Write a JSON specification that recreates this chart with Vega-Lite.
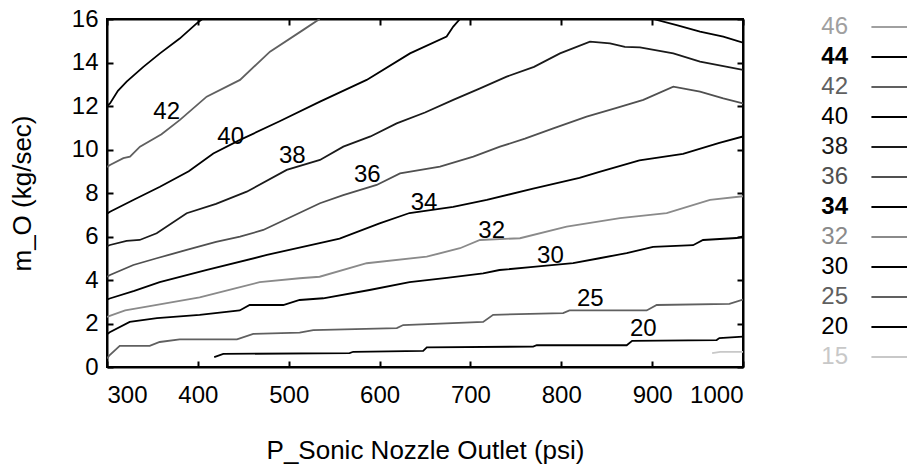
{
  "$schema": "https://vega.github.io/schema/vega-lite/v6.json",
  "width": 636,
  "height": 348,
  "autosize": {"type": "none"},
  "padding": {"left": 107, "top": 19, "right": 164, "bottom": 102},
  "background": "white",
  "config": {
    "font": "Liberation Sans",
    "view": {"stroke": "black", "strokeWidth": 2},
    "axis": {
      "grid": false,
      "domainColor": "black",
      "domainWidth": 2,
      "tickColor": "black",
      "tickSize": -6,
      "tickWidth": 2,
      "labelFont": "Liberation Sans",
      "labelFontSize": 24,
      "labelColor": "black",
      "titleFont": "Liberation Sans",
      "titleFontSize": 26,
      "titleFontWeight": "normal",
      "titleColor": "black"
    },
    "legend": {
      "orient": "none",
      "legendX": 763,
      "legendY": -10,
      "padding": 0,
      "symbolType": "M-1,0H5.5",
      "symbolSize": 1100,
      "symbolStrokeWidth": 2,
      "symbolOpacity": 1,
      "labelFont": "Liberation Sans",
      "labelFontSize": 24,
      "labelOffset": -58,
      "labelAlign": "right",
      "rowPadding": 0
    }
  },
  "datasets": {
    "lines": [
      {"level": 44, "seg": "44a", "x": 300, "y": 12.0},
      {"level": 44, "seg": "44a", "x": 303.3, "y": 12.12},
      {"level": 44, "seg": "44a", "x": 312, "y": 12.7},
      {"level": 44, "seg": "44a", "x": 321.6, "y": 13.12},
      {"level": 44, "seg": "44a", "x": 340, "y": 13.8},
      {"level": 44, "seg": "44a", "x": 358.3, "y": 14.42},
      {"level": 44, "seg": "44a", "x": 380, "y": 15.1},
      {"level": 44, "seg": "44a", "x": 398.7, "y": 15.8},
      {"level": 44, "seg": "44a", "x": 405, "y": 16.0},

      {"level": 42, "seg": "42a", "x": 300, "y": 9.2},
      {"level": 42, "seg": "42a", "x": 303.3, "y": 9.29},
      {"level": 42, "seg": "42a", "x": 318, "y": 9.6},
      {"level": 42, "seg": "42a", "x": 325.3, "y": 9.67},
      {"level": 42, "seg": "42a", "x": 336.3, "y": 10.13},
      {"level": 42, "seg": "42a", "x": 360, "y": 10.7},
      {"level": 42, "seg": "42a", "x": 380.3, "y": 11.36},
      {"level": 42, "seg": "42a", "x": 409.7, "y": 12.43},
      {"level": 42, "seg": "42a", "x": 446.4, "y": 13.2},
      {"level": 42, "seg": "42a", "x": 479.4, "y": 14.5},
      {"level": 42, "seg": "42a", "x": 516, "y": 15.5},
      {"level": 42, "seg": "42a", "x": 534, "y": 16.0},

      {"level": 40, "seg": "40a", "x": 300, "y": 7.05},
      {"level": 40, "seg": "40a", "x": 303.3, "y": 7.14},
      {"level": 40, "seg": "40a", "x": 330, "y": 7.7},
      {"level": 40, "seg": "40a", "x": 358.3, "y": 8.29},
      {"level": 40, "seg": "40a", "x": 390, "y": 9.0},
      {"level": 40, "seg": "40a", "x": 417, "y": 9.82},
      {"level": 40, "seg": "40a", "x": 446.4, "y": 10.44},
      {"level": 40, "seg": "40a", "x": 490, "y": 11.3},
      {"level": 40, "seg": "40a", "x": 534.4, "y": 12.2},
      {"level": 40, "seg": "40a", "x": 585.8, "y": 13.2},
      {"level": 40, "seg": "40a", "x": 633.5, "y": 14.42},
      {"level": 40, "seg": "40a", "x": 673.8, "y": 15.19},
      {"level": 40, "seg": "40a", "x": 681.1, "y": 15.65},
      {"level": 40, "seg": "40a", "x": 688.5, "y": 16.0},

      {"level": 40, "seg": "40b", "x": 901, "y": 16.0},
      {"level": 40, "seg": "40b", "x": 927, "y": 15.72},
      {"level": 40, "seg": "40b", "x": 952.7, "y": 15.42},
      {"level": 40, "seg": "40b", "x": 978.3, "y": 15.19},
      {"level": 40, "seg": "40b", "x": 1000, "y": 14.91},

      {"level": 38, "seg": "38a", "x": 300, "y": 5.55},
      {"level": 38, "seg": "38a", "x": 303.3, "y": 5.61},
      {"level": 38, "seg": "38a", "x": 321.6, "y": 5.8},
      {"level": 38, "seg": "38a", "x": 336, "y": 5.84},
      {"level": 38, "seg": "38a", "x": 354.7, "y": 6.15},
      {"level": 38, "seg": "38a", "x": 387.7, "y": 7.07},
      {"level": 38, "seg": "38a", "x": 420, "y": 7.5},
      {"level": 38, "seg": "38a", "x": 453.8, "y": 8.06},
      {"level": 38, "seg": "38a", "x": 497.8, "y": 9.06},
      {"level": 38, "seg": "38a", "x": 534.4, "y": 9.52},
      {"level": 38, "seg": "38a", "x": 560.1, "y": 10.13},
      {"level": 38, "seg": "38a", "x": 590, "y": 10.6},
      {"level": 38, "seg": "38a", "x": 618.8, "y": 11.2},
      {"level": 38, "seg": "38a", "x": 650, "y": 11.7},
      {"level": 38, "seg": "38a", "x": 681.1, "y": 12.28},
      {"level": 38, "seg": "38a", "x": 710, "y": 12.8},
      {"level": 38, "seg": "38a", "x": 739.9, "y": 13.35},
      {"level": 38, "seg": "38a", "x": 770, "y": 13.8},
      {"level": 38, "seg": "38a", "x": 798.6, "y": 14.42},
      {"level": 38, "seg": "38a", "x": 831.6, "y": 14.96},
      {"level": 38, "seg": "38a", "x": 853.6, "y": 14.88},
      {"level": 38, "seg": "38a", "x": 870, "y": 14.72},
      {"level": 38, "seg": "38a", "x": 886.6, "y": 14.7},
      {"level": 38, "seg": "38a", "x": 923.3, "y": 14.42},
      {"level": 38, "seg": "38a", "x": 952.7, "y": 14.04},
      {"level": 38, "seg": "38a", "x": 1000, "y": 13.66},

      {"level": 36, "seg": "36a", "x": 300, "y": 4.15},
      {"level": 36, "seg": "36a", "x": 303.3, "y": 4.23},
      {"level": 36, "seg": "36a", "x": 329, "y": 4.69},
      {"level": 36, "seg": "36a", "x": 354.7, "y": 5.0},
      {"level": 36, "seg": "36a", "x": 387.7, "y": 5.38},
      {"level": 36, "seg": "36a", "x": 420, "y": 5.75},
      {"level": 36, "seg": "36a", "x": 446.4, "y": 5.99},
      {"level": 36, "seg": "36a", "x": 472, "y": 6.3},
      {"level": 36, "seg": "36a", "x": 534.4, "y": 7.53},
      {"level": 36, "seg": "36a", "x": 560, "y": 7.9},
      {"level": 36, "seg": "36a", "x": 596.8, "y": 8.37},
      {"level": 36, "seg": "36a", "x": 622.5, "y": 8.9},
      {"level": 36, "seg": "36a", "x": 666.5, "y": 9.21},
      {"level": 36, "seg": "36a", "x": 703.2, "y": 9.67},
      {"level": 36, "seg": "36a", "x": 732.5, "y": 10.13},
      {"level": 36, "seg": "36a", "x": 760, "y": 10.5},
      {"level": 36, "seg": "36a", "x": 791.2, "y": 10.97},
      {"level": 36, "seg": "36a", "x": 827.9, "y": 11.51},
      {"level": 36, "seg": "36a", "x": 860, "y": 11.9},
      {"level": 36, "seg": "36a", "x": 890.3, "y": 12.28},
      {"level": 36, "seg": "36a", "x": 923.3, "y": 12.89},
      {"level": 36, "seg": "36a", "x": 952.7, "y": 12.66},
      {"level": 36, "seg": "36a", "x": 978.3, "y": 12.35},
      {"level": 36, "seg": "36a", "x": 1000, "y": 12.12},

      {"level": 34, "seg": "34a", "x": 300, "y": 3.1},
      {"level": 34, "seg": "34a", "x": 303, "y": 3.15},
      {"level": 34, "seg": "34a", "x": 330, "y": 3.5},
      {"level": 34, "seg": "34a", "x": 358, "y": 3.9},
      {"level": 34, "seg": "34a", "x": 410, "y": 4.46},
      {"level": 34, "seg": "34a", "x": 476, "y": 5.15},
      {"level": 34, "seg": "34a", "x": 534, "y": 5.7},
      {"level": 34, "seg": "34a", "x": 556, "y": 5.9},
      {"level": 34, "seg": "34a", "x": 600, "y": 6.6},
      {"level": 34, "seg": "34a", "x": 633, "y": 7.08},
      {"level": 34, "seg": "34a", "x": 681, "y": 7.36},
      {"level": 34, "seg": "34a", "x": 718, "y": 7.68},
      {"level": 34, "seg": "34a", "x": 769, "y": 8.2},
      {"level": 34, "seg": "34a", "x": 820, "y": 8.7},
      {"level": 34, "seg": "34a", "x": 842, "y": 8.97},
      {"level": 34, "seg": "34a", "x": 886, "y": 9.5},
      {"level": 34, "seg": "34a", "x": 934, "y": 9.8},
      {"level": 34, "seg": "34a", "x": 974, "y": 10.3},
      {"level": 34, "seg": "34a", "x": 1000, "y": 10.6},

      {"level": 32, "seg": "32a", "x": 300, "y": 2.3},
      {"level": 32, "seg": "32a", "x": 303, "y": 2.35},
      {"level": 32, "seg": "32a", "x": 320, "y": 2.6},
      {"level": 32, "seg": "32a", "x": 347, "y": 2.8},
      {"level": 32, "seg": "32a", "x": 402, "y": 3.2},
      {"level": 32, "seg": "32a", "x": 440, "y": 3.6},
      {"level": 32, "seg": "32a", "x": 468, "y": 3.9},
      {"level": 32, "seg": "32a", "x": 512, "y": 4.08},
      {"level": 32, "seg": "32a", "x": 534, "y": 4.15},
      {"level": 32, "seg": "32a", "x": 585.8, "y": 4.77},
      {"level": 32, "seg": "32a", "x": 651.9, "y": 5.07},
      {"level": 32, "seg": "32a", "x": 688.5, "y": 5.46},
      {"level": 32, "seg": "32a", "x": 710.5, "y": 5.84},
      {"level": 32, "seg": "32a", "x": 754.5, "y": 5.92},
      {"level": 32, "seg": "32a", "x": 805.9, "y": 6.45},
      {"level": 32, "seg": "32a", "x": 864.6, "y": 6.84},
      {"level": 32, "seg": "32a", "x": 916, "y": 7.07},
      {"level": 32, "seg": "32a", "x": 963.7, "y": 7.68},
      {"level": 32, "seg": "32a", "x": 1000, "y": 7.85},

      {"level": 30, "seg": "30a", "x": 300, "y": 1.5},
      {"level": 30, "seg": "30a", "x": 303, "y": 1.6},
      {"level": 30, "seg": "30a", "x": 325, "y": 2.07},
      {"level": 30, "seg": "30a", "x": 355, "y": 2.25},
      {"level": 30, "seg": "30a", "x": 402, "y": 2.4},
      {"level": 30, "seg": "30a", "x": 446, "y": 2.6},
      {"level": 30, "seg": "30a", "x": 457, "y": 2.85},
      {"level": 30, "seg": "30a", "x": 494, "y": 2.85},
      {"level": 30, "seg": "30a", "x": 512, "y": 3.08},
      {"level": 30, "seg": "30a", "x": 538, "y": 3.16},
      {"level": 30, "seg": "30a", "x": 589, "y": 3.54},
      {"level": 30, "seg": "30a", "x": 633, "y": 3.9},
      {"level": 30, "seg": "30a", "x": 674, "y": 4.1},
      {"level": 30, "seg": "30a", "x": 714, "y": 4.3},
      {"level": 30, "seg": "30a", "x": 732, "y": 4.46},
      {"level": 30, "seg": "30a", "x": 769, "y": 4.6},
      {"level": 30, "seg": "30a", "x": 813, "y": 4.78},
      {"level": 30, "seg": "30a", "x": 842, "y": 5.0},
      {"level": 30, "seg": "30a", "x": 872, "y": 5.24},
      {"level": 30, "seg": "30a", "x": 901, "y": 5.52},
      {"level": 30, "seg": "30a", "x": 945, "y": 5.6},
      {"level": 30, "seg": "30a", "x": 956, "y": 5.84},
      {"level": 30, "seg": "30a", "x": 993, "y": 5.93},
      {"level": 30, "seg": "30a", "x": 1000, "y": 6.0},

      {"level": 25, "seg": "25a", "x": 300, "y": 0.4},
      {"level": 25, "seg": "25a", "x": 303, "y": 0.55},
      {"level": 25, "seg": "25a", "x": 314, "y": 0.97},
      {"level": 25, "seg": "25a", "x": 347, "y": 0.97},
      {"level": 25, "seg": "25a", "x": 358, "y": 1.15},
      {"level": 25, "seg": "25a", "x": 380, "y": 1.27},
      {"level": 25, "seg": "25a", "x": 443, "y": 1.27},
      {"level": 25, "seg": "25a", "x": 461, "y": 1.52},
      {"level": 25, "seg": "25a", "x": 512, "y": 1.58},
      {"level": 25, "seg": "25a", "x": 527, "y": 1.7},
      {"level": 25, "seg": "25a", "x": 619, "y": 1.79},
      {"level": 25, "seg": "25a", "x": 626, "y": 1.93},
      {"level": 25, "seg": "25a", "x": 714, "y": 2.07},
      {"level": 25, "seg": "25a", "x": 725, "y": 2.4},
      {"level": 25, "seg": "25a", "x": 802, "y": 2.48},
      {"level": 25, "seg": "25a", "x": 809, "y": 2.6},
      {"level": 25, "seg": "25a", "x": 894, "y": 2.6},
      {"level": 25, "seg": "25a", "x": 905, "y": 2.85},
      {"level": 25, "seg": "25a", "x": 985, "y": 2.9},
      {"level": 25, "seg": "25a", "x": 1000, "y": 3.1},

      {"level": 20, "seg": "20a", "x": 418, "y": 0.45},
      {"level": 20, "seg": "20a", "x": 428, "y": 0.6},
      {"level": 20, "seg": "20a", "x": 567, "y": 0.64},
      {"level": 20, "seg": "20a", "x": 571, "y": 0.7},
      {"level": 20, "seg": "20a", "x": 648, "y": 0.74},
      {"level": 20, "seg": "20a", "x": 652, "y": 0.9},
      {"level": 20, "seg": "20a", "x": 769, "y": 0.94},
      {"level": 20, "seg": "20a", "x": 773, "y": 1.0},
      {"level": 20, "seg": "20a", "x": 872, "y": 1.0},
      {"level": 20, "seg": "20a", "x": 878, "y": 1.2},
      {"level": 20, "seg": "20a", "x": 971, "y": 1.24},
      {"level": 20, "seg": "20a", "x": 974, "y": 1.33},
      {"level": 20, "seg": "20a", "x": 1000, "y": 1.4},

      {"level": 15, "seg": "15a", "x": 966, "y": 0.64},
      {"level": 15, "seg": "15a", "x": 975, "y": 0.7},
      {"level": 15, "seg": "15a", "x": 1000, "y": 0.7}
    ],
    "labels": [
      {"label": "42", "x": 365.7, "y": 11.71},
      {"label": "40", "x": 436.1, "y": 10.56},
      {"label": "38", "x": 504, "y": 9.72},
      {"label": "36", "x": 586.5, "y": 8.83},
      {"label": "34", "x": 648.9, "y": 7.52},
      {"label": "32", "x": 723.4, "y": 6.27},
      {"label": "30", "x": 788, "y": 5.12},
      {"label": "25", "x": 832, "y": 3.13},
      {"label": "20", "x": 890.3, "y": 1.75}
    ]
  },
  "layer": [
    {
      "data": {"name": "lines"},
      "mark": {"type": "line", "strokeWidth": 1.8, "clip": true},
      "encoding": {
        "x": {
          "field": "x", "type": "quantitative",
          "scale": {"domain": [300, 1000], "nice": false, "zero": false},
          "axis": {
            "values": [300, 400, 500, 600, 700, 800, 900, 1000],
            "format": "d",
            "title": "P_Sonic Nozzle Outlet (psi)",
            "labelPadding": 22,
            "titlePadding": 30
          }
        },
        "y": {
          "field": "y", "type": "quantitative",
          "scale": {"domain": [0, 16], "nice": false, "zero": false},
          "axis": {
            "values": [0, 2, 4, 6, 8, 10, 12, 14, 16],
            "title": "m_O (kg/sec)",
            "labelPadding": 15,
            "titlePadding": 36
          }
        },
        "color": {
          "field": "level", "type": "nominal",
          "scale": {
            "domain": [46, 44, 42, 40, 38, 36, 34, 32, 30, 25, 20, 15],
            "range": ["#a0a0a0", "#000000", "#606060", "#000000", "#1a1a1a", "#505050", "#000000", "#8a8a8a", "#000000", "#606060", "#000000", "#c8c8c8"]
          },
          "legend": {
            "title": null,
            "encode": {
              "labels": {
                "update": {
                  "fill": {"signal": "scale('color', datum.value)"},
                  "fontWeight": {"signal": "datum.value == 44 || datum.value == 34 ? 'bold' : 'normal'"}
                }
              },
              "symbols": {
                "update": {
                  "stroke": {"signal": "scale('color', datum.value)"},
                  "strokeWidth": {"value": 2},
                  "opacity": {"value": 1}
                }
              }
            }
          }
        },
        "detail": {"field": "seg", "type": "nominal"}
      }
    },
    {
      "data": {"name": "labels"},
      "mark": {"type": "text", "fontSize": 24, "font": "Liberation Sans", "color": "black", "baseline": "middle", "align": "center"},
      "encoding": {
        "x": {
          "field": "x", "type": "quantitative",
          "axis": {"orient": "top", "labels": false, "title": null, "values": [300, 400, 500, 600, 700, 800, 900, 1000]}
        },
        "y": {
          "field": "y", "type": "quantitative",
          "axis": {"orient": "right", "labels": false, "title": null, "values": [0, 2, 4, 6, 8, 10, 12, 14, 16]}
        },
        "text": {"field": "label"}
      }
    }
  ],
  "resolve": {"axis": {"x": "independent", "y": "independent"}}
}
